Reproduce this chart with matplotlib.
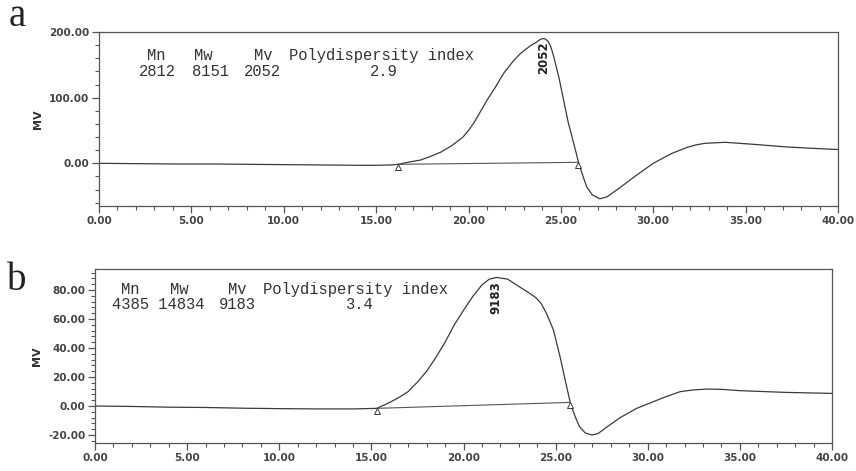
import matplotlib
matplotlib.use("Agg")
import matplotlib.pyplot as plt
from matplotlib.ticker import MultipleLocator, FormatStrFormatter

# ---------------- data ----------------
# Panel a chromatogram
a_time = [0, 2, 4, 6, 8, 10, 12, 14, 15, 15.8, 16.2, 16.8, 17.4, 17.9, 18.5, 19.1,
          19.7, 20.0, 20.3, 20.65, 21.0, 21.5, 21.9, 22.4, 22.8, 23.3, 23.7, 23.85,
          24.0, 24.15, 24.3, 24.45, 24.6,
          24.9, 25.15, 25.4, 25.7, 25.97, 26.2, 26.4, 26.7, 27.1, 27.5, 28.2, 29.0,
          30.0, 31.0, 31.8, 32.3, 32.8, 33.9, 35.4, 37.2, 38.5, 40]
a_mv = [0, -0.5, -1, -1, -1.5, -2, -2.5, -3, -3, -2.5, -1.5, 2, 5, 10, 17, 27,
        40, 50, 62, 79, 96, 118, 137, 155, 167, 178, 185, 188,
        190, 189.5, 186, 178, 164,
        130, 96, 62, 30, 0, -20, -36, -48, -54, -51, -37, -20,
        0, 15, 24, 28, 30.5, 32, 29, 25, 23, 21]
a_base_x = [16.2, 25.9]
a_base_y = [-1.5, 1.5]
a_peak_label = "2052"
a_peak_pos = (24.05, 161)
a_header = ["Mn", "Mw", "Mv", "Polydispersity index"]
a_values = ["2812", "8151", "2052", "2.9"]

# Panel b chromatogram
b_time = [0, 2, 4, 6, 8, 10, 12, 14, 15.3, 16.0, 16.56, 17.0, 17.5, 18.0, 18.5,
          19.0, 19.5, 20.0, 20.5, 21.0, 21.4, 21.8, 22.4, 23.0, 23.5, 23.9, 24.2,
          24.5, 24.7, 24.88, 25.24, 25.6, 25.8, 26.05, 26.3, 26.6, 26.97, 27.3,
          27.8, 28.5, 29.4, 30.5, 31.0, 31.76, 32.4, 33.2, 34.0, 35.0, 37.5, 40]
b_mv = [0, -0.3, -0.8, -1, -1.5, -1.8, -2, -2, -1.6, 2.5, 6.4, 10, 16.5, 24, 33.5,
        44, 56, 66, 75.5, 83.5, 87.5, 88.7, 87.5, 82.5, 78.5, 75, 71,
        64, 58, 52.4, 34, 13.3, 2, -7, -14.3, -18.5, -20, -19,
        -14.3, -8, -1.6, 4, 6.5, 9.9, 11, 11.7, 11.5, 10.6, 9.4, 8.7]
b_base_x = [15.3, 25.8]
b_base_y = [-1.6, 2.5]
b_peak_label = "9183"
b_peak_pos = (21.75, 75)
b_header = ["Mn", "Mw", "Mv", "Polydispersity index"]
b_values = ["4385 14834", "9183", "3.4"]

W, H = 856, 471
fig = plt.figure(figsize=(W / 100, H / 100), dpi=100)

line_col = "#3a3a3a"
tick_col = "#444444"
mono = "Liberation Mono"


def setup(ax, ylim, ymaj, ymin):
    ax.set_xlim(0, 40)
    ax.set_ylim(*ylim)
    ax.xaxis.set_major_locator(MultipleLocator(5))
    ax.xaxis.set_minor_locator(MultipleLocator(1))
    ax.yaxis.set_major_locator(MultipleLocator(ymaj))
    ax.yaxis.set_minor_locator(MultipleLocator(ymin))
    ax.xaxis.set_major_formatter(FormatStrFormatter("%.2f"))
    ax.yaxis.set_major_formatter(FormatStrFormatter("%.2f"))
    for s in ax.spines.values():
        s.set_color("#555555")
        s.set_linewidth(0.9)
    ax.tick_params(axis="both", which="major", direction="out", length=5,
                   width=0.9, color="#555555", labelsize=7.5, labelcolor=tick_col, pad=2)
    ax.tick_params(axis="both", which="minor", direction="out", length=3,
                   width=0.8, color="#555555")
    for lab in ax.get_xticklabels() + ax.get_yticklabels():
        lab.set_fontweight("bold")
    ax.set_ylabel("MV", fontsize=8, fontweight="bold", color="#333333", labelpad=4)


def draw(ax, t, mv, bx, by, plab, ppos, header, hx, values, vx, hy, vy, mk_dy):
    ax.plot(t, mv, color=line_col, lw=0.9)
    ax.plot(bx, by, color="#555555", lw=0.8)
    ax.plot(bx, [by[0] + mk_dy, by[1] + mk_dy], linestyle="none", marker="^",
            markersize=4.5, markerfacecolor="white", markeredgecolor=line_col,
            markeredgewidth=0.7)
    ax.text(ppos[0], ppos[1], plab, rotation=90, ha="center", va="center",
            fontsize=8.5, fontweight="bold", color="#222222")
    for s, x in zip(header, hx):
        ax.text(x, hy, s, ha="left", va="center", fontsize=11.2, family=mono,
                color="#333333")
    for s, x in zip(values, vx):
        ax.text(x, vy, s, ha="left", va="center", fontsize=11.2, family=mono,
                color="#333333")


ax1 = fig.add_axes([99 / W, 1 - 206 / H, (838 - 99) / W, (206 - 32) / H])
setup(ax1, (-65, 200), 100, 20)
draw(ax1, a_time, a_mv, a_base_x, a_base_y, a_peak_label, a_peak_pos,
     a_header, [2.6, 5.15, 8.4, 10.3], a_values, [2.15, 5.05, 7.85, 14.65],
     164, 140, -3.5)

ax2 = fig.add_axes([95 / W, 1 - 443 / H, (832 - 95) / W, (443 - 269) / H])
setup(ax2, (-25.5, 94.5), 20, 4)
draw(ax2, b_time, b_mv, b_base_x, b_base_y, b_peak_label, b_peak_pos,
     b_header, [1.4, 4.05, 7.2, 9.1], b_values, [0.92, 6.73, 13.57],
     80.5, 70, -1.5)

fig.text(9 / W, 1 - 17 / H, "a", fontsize=28, family="Liberation Serif",
         ha="left", va="center", color="#222222")
fig.text(7 / W, 1 - 281 / H, "b", fontsize=28, family="Liberation Serif",
         ha="left", va="center", color="#222222")

fig.savefig("out.png", dpi=100, facecolor="white")
